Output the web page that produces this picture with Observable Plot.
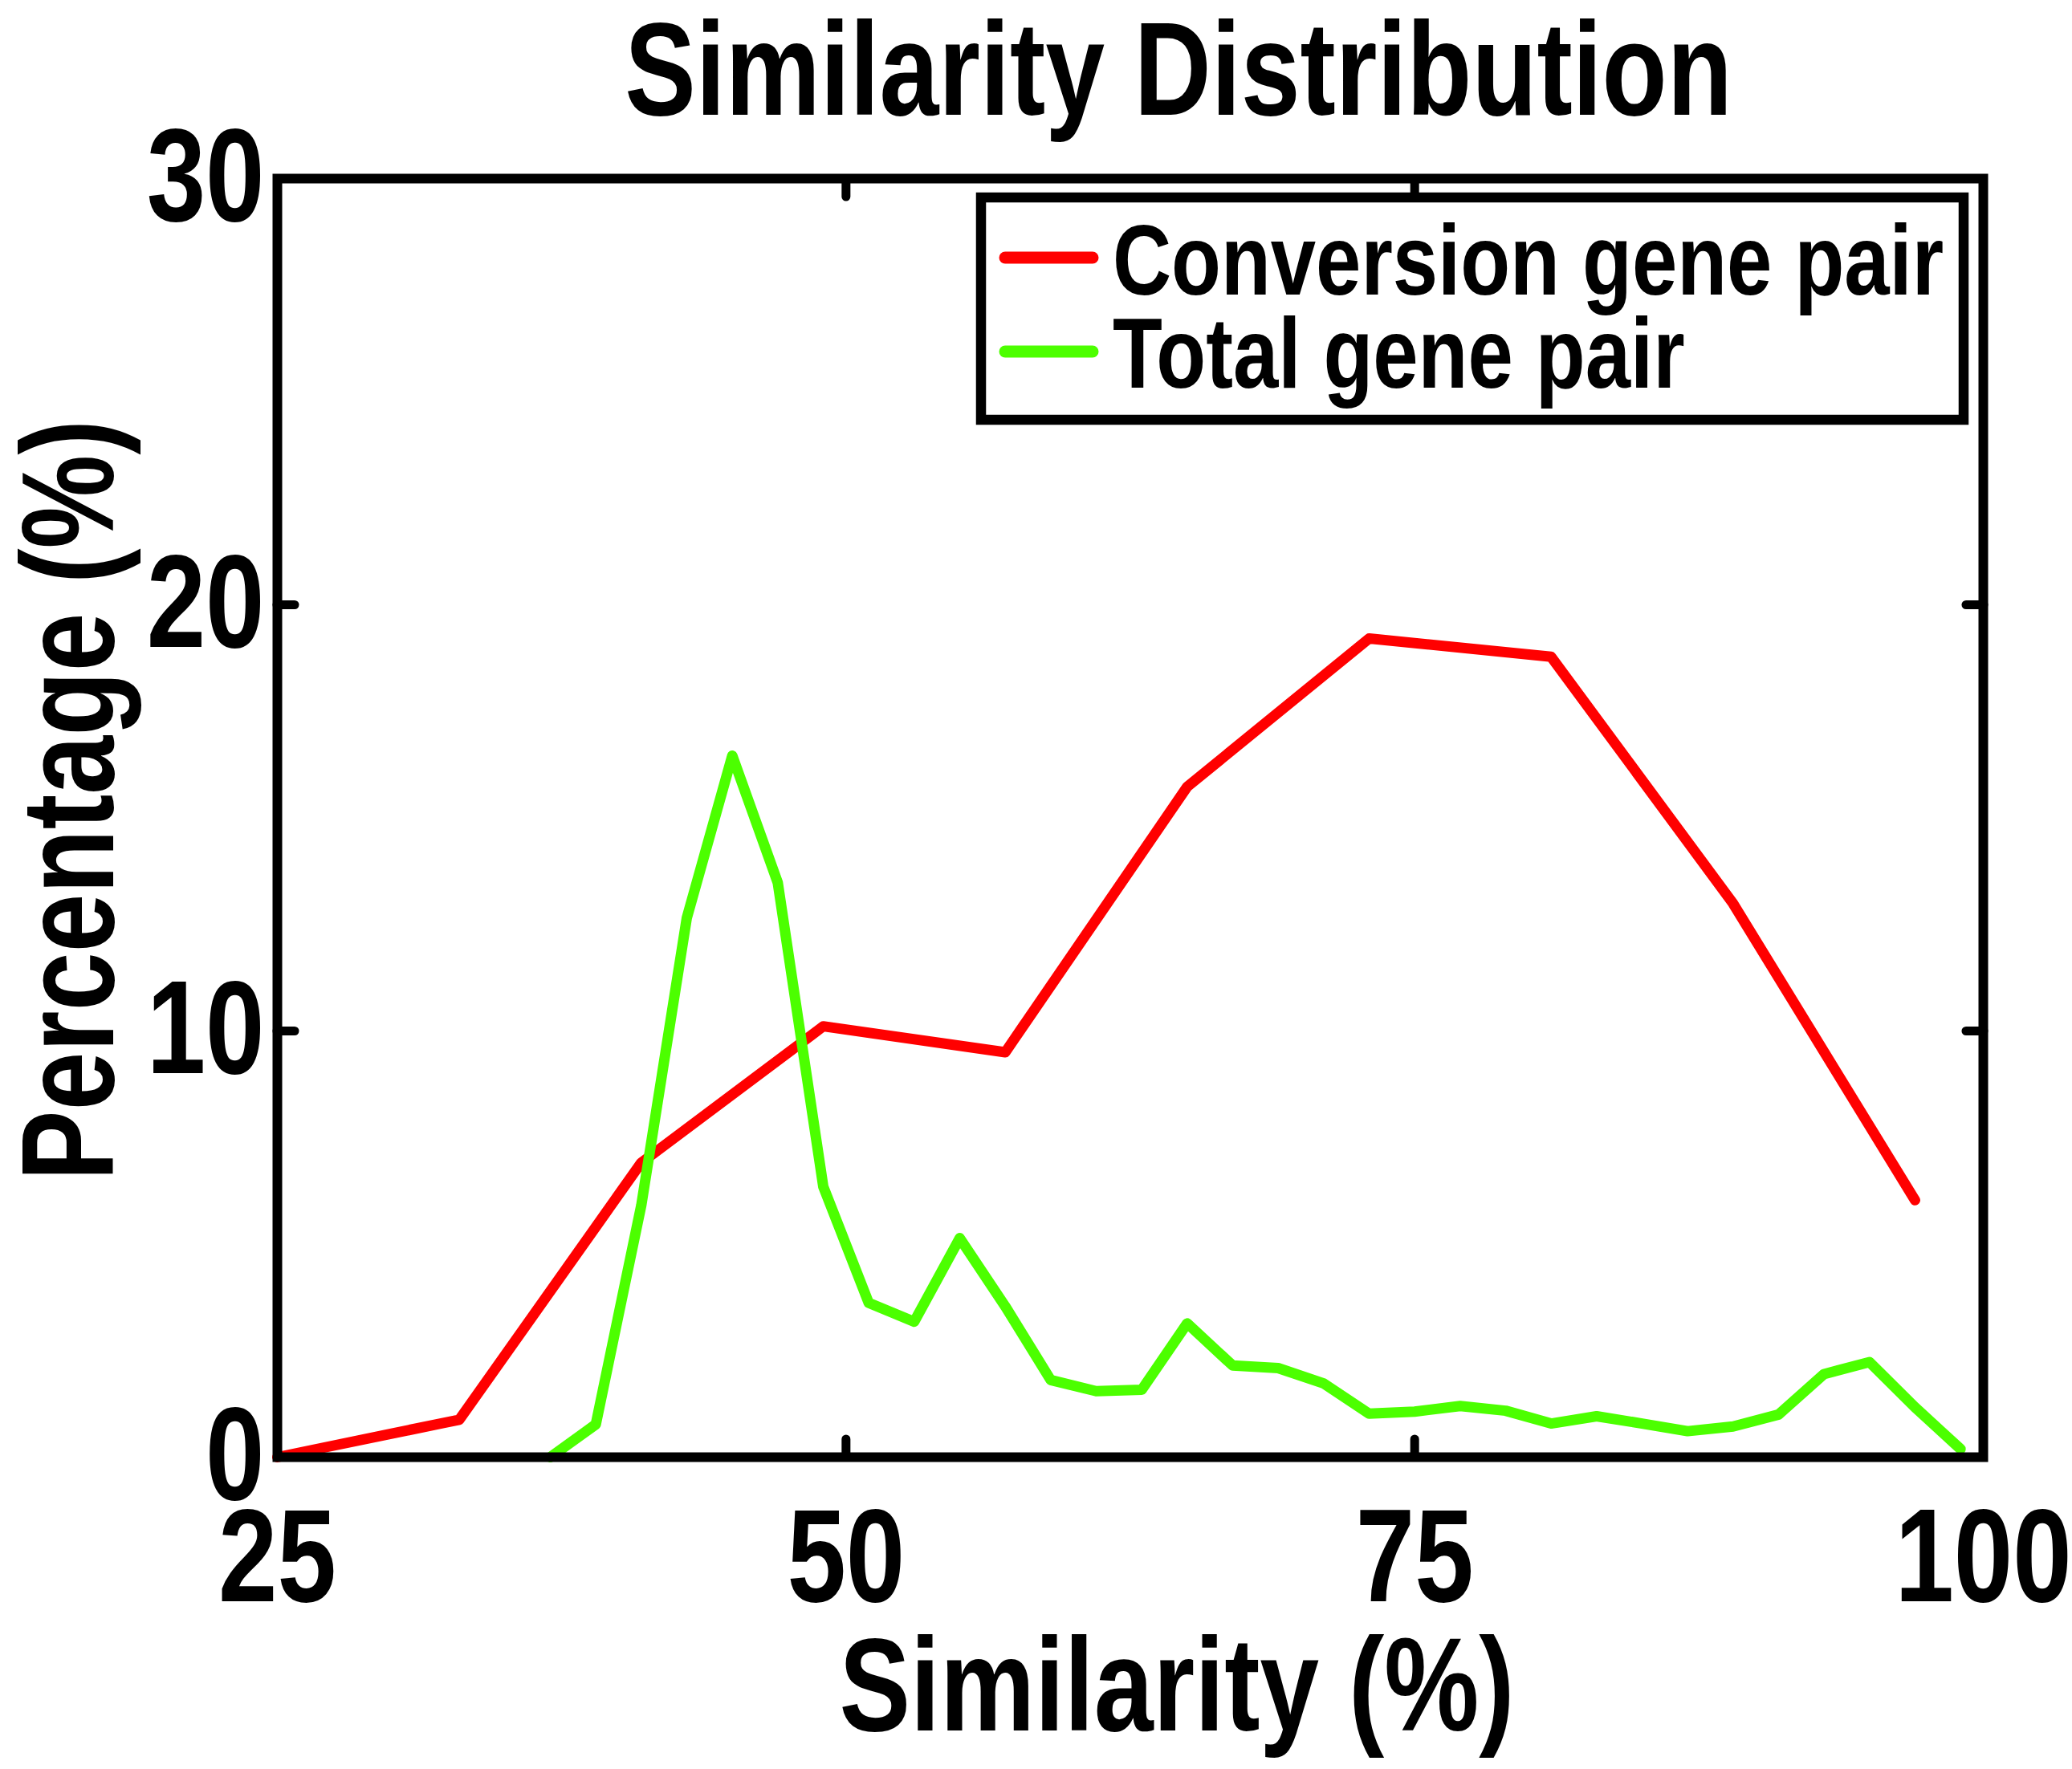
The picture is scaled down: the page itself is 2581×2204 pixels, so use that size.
<!DOCTYPE html>
<html>
<head>
<meta charset="utf-8">
<script src="https://cdn.jsdelivr.net/npm/d3@7"></script>
<script src="https://cdn.jsdelivr.net/npm/@observablehq/plot@0.6"></script>
<style>
  html, body { margin: 0; padding: 0; overflow: hidden; background: #fff; }
  #wrap { position: relative; width: 2581px; height: 2204px; }
  #wrap svg { display: block; }
  #legend { position: absolute; left: 0; top: 0; pointer-events: none; }
</style>
</head>
<body>
<div id="wrap"></div>
<script>
// ---- data ----
const titleText = "Similarity Distribution";
const xLabel = "Similarity (%)";
const yLabel = "Percentage (%)";
const xTicks = [25, 50, 75, 100];
const yTicks = [0, 10, 20, 30];
const xInnerTicks = [50, 75];
const yInnerTicks = [10, 20];

const seriesNames = ["Conversion gene pair", "Total gene pair"];
const seriesColors = ["#ff0000", "#4cff00"];

const convX = [25, 33, 41, 49, 57, 65, 73, 81, 89, 97];
const convY = [0, 0.88, 6.91, 10.11, 9.5, 15.73, 19.21, 18.78, 12.99, 6.03];

const totalX = [37, 39, 41, 43, 45, 47, 49, 51, 53, 55, 57, 59, 61, 63, 65, 67,
                69, 71, 73, 75, 77, 79, 81, 83, 85, 87, 89, 91, 93, 95, 97, 99];
const totalY = [0, 0.77, 5.91, 12.65, 16.46, 13.48, 6.35, 3.62, 3.18, 5.14, 3.54, 1.81, 1.55, 1.58, 3.14, 2.15,
                2.09, 1.73, 1.02, 1.07, 1.2, 1.09, 0.79, 0.96, 0.79, 0.61, 0.72, 1.0, 1.95, 2.23, 1.17, 0.19];

// hidden third series (mostly behind the axis)
const otherX = [25, 33, 35, 37];
const otherY = [0, 0, 0.02, 0.06];
const otherColor = "#0000cc";

// ---- build ----
const FONT = '"Liberation Sans", Arial, Helvetica, sans-serif';
const NARROW = 0.8;       // horizontal condensing of the bold face (Helvetica Narrow look)
const NARROW_LEG = 0.81;
const conv = convX.map((x, i) => ({x, y: convY[i]}));
const total = totalX.map((x, i) => ({x, y: totalY[i]}));
const other = otherX.map((x, i) => ({x, y: otherY[i]}));

const W = 2581, H = 2204;
const mL = 345, mR = W - 2470, mT = 222, mB = H - 1815;
const fmt = d => String(d);

const chart = Plot.plot({
  width: W,
  height: H,
  marginLeft: mL,
  marginRight: mR,
  marginTop: mT,
  marginBottom: mB,
  style: {fontFamily: FONT, fontWeight: "bold", color: "#000", background: "#fff"},
  x: {domain: [25, 100], label: null},
  y: {domain: [0, 30], label: null},
  marks: [
    Plot.line(other, {x: "x", y: "y", stroke: otherColor, strokeWidth: 4}),
    Plot.line(conv, {x: "x", y: "y", stroke: seriesColors[0], strokeWidth: 13, strokeLinejoin: "round", strokeLinecap: "round"}),
    Plot.line(total, {x: "x", y: "y", stroke: seriesColors[1], strokeWidth: 13, strokeLinejoin: "round", strokeLinecap: "round"}),
    // inward ticks
    Plot.axisX(xInnerTicks, {anchor: "bottom", tickSize: -22, text: null, label: null, strokeWidth: 11, strokeLinecap: "round", stroke: "#000"}),
    Plot.axisX(xInnerTicks, {anchor: "top", tickSize: -22, text: null, label: null, strokeWidth: 11, strokeLinecap: "round", stroke: "#000"}),
    Plot.axisY(yInnerTicks, {anchor: "left", tickSize: -22, text: null, label: null, strokeWidth: 11, strokeLinecap: "round", stroke: "#000"}),
    Plot.axisY(yInnerTicks, {anchor: "right", tickSize: -22, text: null, label: null, strokeWidth: 11, strokeLinecap: "round", stroke: "#000"}),
    // tick labels
    Plot.axisX(xTicks, {anchor: "bottom", tickSize: 0, tickPadding: 62, tickFormat: fmt, label: null, fontSize: 165, fontWeight: "bold", fontFamily: FONT, fill: "#000"}),
    Plot.axisY(yTicks, {anchor: "left", tickSize: 0, tickPadding: 16, tickFormat: fmt, label: null, fontSize: 165, fontWeight: "bold", fontFamily: FONT, fill: "#000"}),
    Plot.frame({stroke: "#000", strokeWidth: 12}),
    // title and axis labels
    Plot.text([titleText], {text: d => d, frameAnchor: "top", textAnchor: "middle", dx: 60, dy: -80, lineAnchor: "bottom", fontSize: 166, fontWeight: "bold", fontFamily: FONT, fill: "#000"}),
    Plot.text([xLabel], {text: d => d, frameAnchor: "bottom", textAnchor: "middle", dx: 58, dy: 340, lineAnchor: "bottom", fontSize: 166, fontWeight: "bold", fontFamily: FONT, fill: "#000"}),
    Plot.text([yLabel], {text: d => d, frameAnchor: "left", textAnchor: "middle", rotate: -90, dx: -205, dy: -22, lineAnchor: "bottom", fontSize: 164, fontWeight: "bold", fontFamily: FONT, fill: "#000"})
  ]
});

// condense every text along its reading direction
function condense(textEl, k) {
  const x = +textEl.getAttribute("x") || 0;
  const y = +textEl.getAttribute("y") || 0;
  const t = textEl.getAttribute("transform") || "";
  textEl.setAttribute("transform",
    `${t} translate(${x},${y}) scale(${k},1) translate(${-x},${-y})`.trim());
}
chart.querySelectorAll("text").forEach(el => condense(el, NARROW));

const wrap = document.getElementById("wrap");
wrap.appendChild(chart);

// ---- legend overlay ----
const leg = d3.select(wrap).append("svg")
  .attr("id", "legend")
  .attr("width", W).attr("height", H);

const box = {x: 1222, y: 246, w: 2446 - 1222, h: 523 - 246};
leg.append("rect")
  .attr("x", box.x).attr("y", box.y).attr("width", box.w).attr("height", box.h)
  .attr("fill", "#fff").attr("stroke", "#000").attr("stroke-width", 12.5);

const rowY = [321, 438];
const baseY = [367, 483];
seriesNames.forEach((name, i) => {
  leg.append("line")
    .attr("x1", 1252).attr("x2", 1361).attr("y1", rowY[i]).attr("y2", rowY[i])
    .attr("stroke", seriesColors[i]).attr("stroke-width", 15).attr("stroke-linecap", "round");
  const t = leg.append("text")
    .attr("x", 1386).attr("y", baseY[i])
    .attr("font-family", FONT).attr("font-weight", "bold").attr("font-size", 125)
    .attr("fill", "#000")
    .text(name);
  condense(t.node(), NARROW_LEG);
});
</script>
</body>
</html>
